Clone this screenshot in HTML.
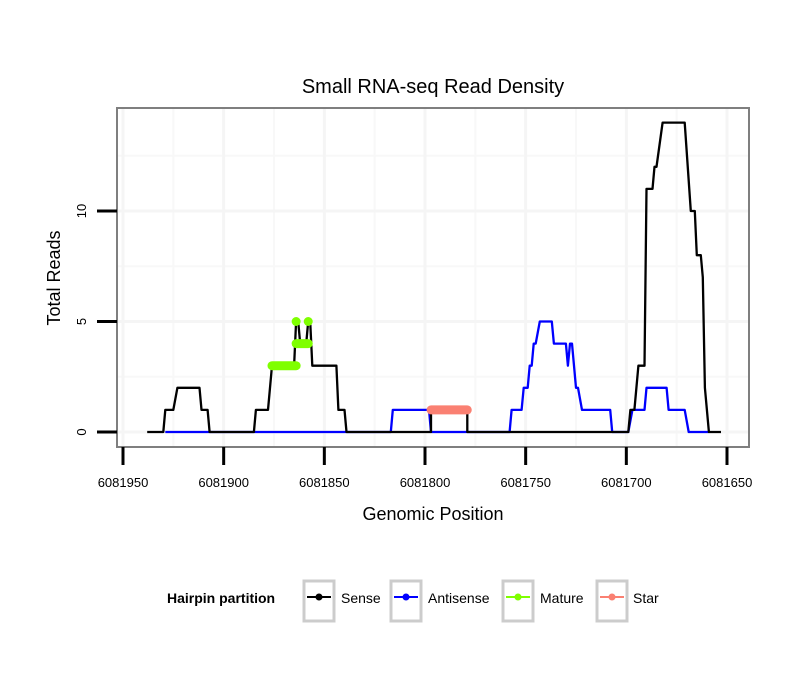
<!DOCTYPE html>
<html><head><meta charset="utf-8"><style>
body{margin:0;background:#fff;}
svg text{font-family:"Liberation Sans",sans-serif;}
</style></head><body>
<svg id="chart" width="810" height="690">
<text x="433" y="93" font-size="20" text-anchor="middle">Small RNA-seq Read Density</text>
<g id="grid"></g>
<rect x="117" y="108" width="632" height="339" fill="none" stroke="#7f7f7f" stroke-width="2"/>
<g id="series"></g>
<g id="axes"></g>
<text x="433" y="520" font-size="18" text-anchor="middle">Genomic Position</text>
<text transform="translate(60,278) rotate(-90)" font-size="18" text-anchor="middle">Total Reads</text>
<g>
<text x="167" y="603" font-size="14" font-weight="bold">Hairpin partition</text>
<g><rect x="304" y="581" width="30" height="40" fill="#fff" stroke="#ccc" stroke-width="3"/><line x1="307" y1="597" x2="331" y2="597" stroke="#000" stroke-width="2"/><circle cx="319" cy="597" r="3.5" fill="#000"/><text x="341" y="603" font-size="14">Sense</text></g>
<g><rect x="391" y="581" width="30" height="40" fill="#fff" stroke="#ccc" stroke-width="3"/><line x1="394" y1="597" x2="418" y2="597" stroke="#00f" stroke-width="2"/><circle cx="406" cy="597" r="3.5" fill="#00f"/><text x="428" y="603" font-size="14">Antisense</text></g>
<g><rect x="503" y="581" width="30" height="40" fill="#fff" stroke="#ccc" stroke-width="3"/><line x1="506" y1="597" x2="530" y2="597" stroke="#7fff00" stroke-width="2"/><circle cx="518" cy="597" r="3.5" fill="#7fff00"/><text x="540" y="603" font-size="14">Mature</text></g>
<g><rect x="597" y="581" width="30" height="40" fill="#fff" stroke="#ccc" stroke-width="3"/><line x1="600" y1="597" x2="624" y2="597" stroke="#fa8072" stroke-width="2"/><circle cx="612" cy="597" r="3.5" fill="#fa8072"/><text x="633" y="603" font-size="14">Star</text></g>
</g>
</svg>
<script>
const xTicks=[6081950,6081900,6081850,6081800,6081750,6081700,6081650];
const yTicks=[0,5,10];
const sensePos=[6081938,6081930,6081929,6081925,6081923,6081912,6081911,6081908,6081907,6081885,6081884,6081878,6081876,6081865,6081864,6081863,6081862,6081859,6081858,6081857,6081856,6081844,6081843,6081840,6081839,6081797,6081797,6081779,6081779,6081699,6081698,6081696,6081694,6081691,6081690,6081687,6081686,6081685,6081682,6081671,6081668,6081666,6081665,6081663,6081662,6081661,6081659,6081653];
const senseVal=[0,0,1,1,2,2,1,1,0,0,1,1,3,3,5,5,4,4,5,5,3,3,1,1,0,0,1,1,0,0,1,1,3,3,11,11,12,12,14,14,10,10,8,8,7,2,0,0];
const antiPos=[6081929,6081817,6081816,6081798,6081797,6081758,6081757,6081752,6081751,6081749,6081748,6081747,6081746,6081745,6081743,6081737,6081736,6081730,6081729,6081728,6081727,6081726,6081725,6081724,6081722,6081708,6081707,6081699,6081697,6081691,6081690,6081680,6081679,6081671,6081669,6081659];
const antiVal=[0,0,1,1,0,0,1,1,2,2,3,3,4,4,5,5,4,4,3,4,4,3,2,2,1,1,0,0,1,1,2,2,1,1,0,0];
const matureStart=[6081876,6081864,6081864,6081858];
const matureEnd=[6081864,6081858,6081864,6081858];
const matureVal=[3,4,5,5];
const starStart=[6081797];
const starEnd=[6081779];
const starVal=[1];

const X=p=>123+(6081950-p)*(604/300);
const Y=v=>432-v*22.1;
const NS='http://www.w3.org/2000/svg';
function mk(tag,attrs,parent){const e=document.createElementNS(NS,tag);for(const k in attrs)e.setAttribute(k,attrs[k]);parent.appendChild(e);return e;}
const grid=document.getElementById('grid'),axes=document.getElementById('axes'),ser=document.getElementById('series');
[2.5,7.5,12.5].forEach(v=>{const l=mk('line',{x1:118,x2:748,y1:Y(v),y2:Y(v),stroke:'#f8f8f8','stroke-width':2},grid);

});
[6081925,6081875,6081825,6081775,6081725,6081675].forEach(p=>{const l=mk('line',{x1:X(p),x2:X(p),y1:109,y2:446,stroke:'#f8f8f8','stroke-width':2},grid);

});
yTicks.forEach(v=>{const l=mk('line',{x1:118,x2:748,y1:Y(v),y2:Y(v),stroke:'#f5f5f5','stroke-width':3},grid);


const t=mk('line',{x1:97,x2:117,y1:Y(v),y2:Y(v),stroke:'#000','stroke-width':3},axes);


const tx=mk('text',{transform:`translate(86,${Y(v)}) rotate(-90)`,'font-size':13,'text-anchor':'middle'},axes);tx.textContent=v;

});
xTicks.forEach(p=>{const l=mk('line',{x1:X(p),x2:X(p),y1:109,y2:446,stroke:'#f5f5f5','stroke-width':3},grid);


const t=mk('line',{x1:X(p),x2:X(p),y1:447,y2:465,stroke:'#000','stroke-width':3},axes);


const tx=mk('text',{x:X(p),y:487,'font-size':13,'text-anchor':'middle'},axes);tx.textContent=p;

});
function line(pos,val,color,name){const d=pos.map((p,i)=>(i?'L':'M')+X(p).toFixed(1)+','+Y(val[i]).toFixed(1)).join('');
const e=mk('path',{d:d,fill:'none',stroke:color,'stroke-width':2.3,'stroke-linejoin':'round'},ser);

}
line(antiPos,antiVal,'#00f','antisense-line');
line(sensePos,senseVal,'#000','sense-line');
function segs(s,e2,v,color,name){s.forEach((p,i)=>{const el=mk('line',{x1:X(p),x2:X(e2[i]),y1:Y(v[i]),y2:Y(v[i]),stroke:color,'stroke-width':9,'stroke-linecap':'round'},ser);

});}
segs(matureStart,matureEnd,matureVal,'#7fff00','mature-segment');
segs(starStart,starEnd,starVal,'#fa8072','star-segment');
</script>
</body></html>
